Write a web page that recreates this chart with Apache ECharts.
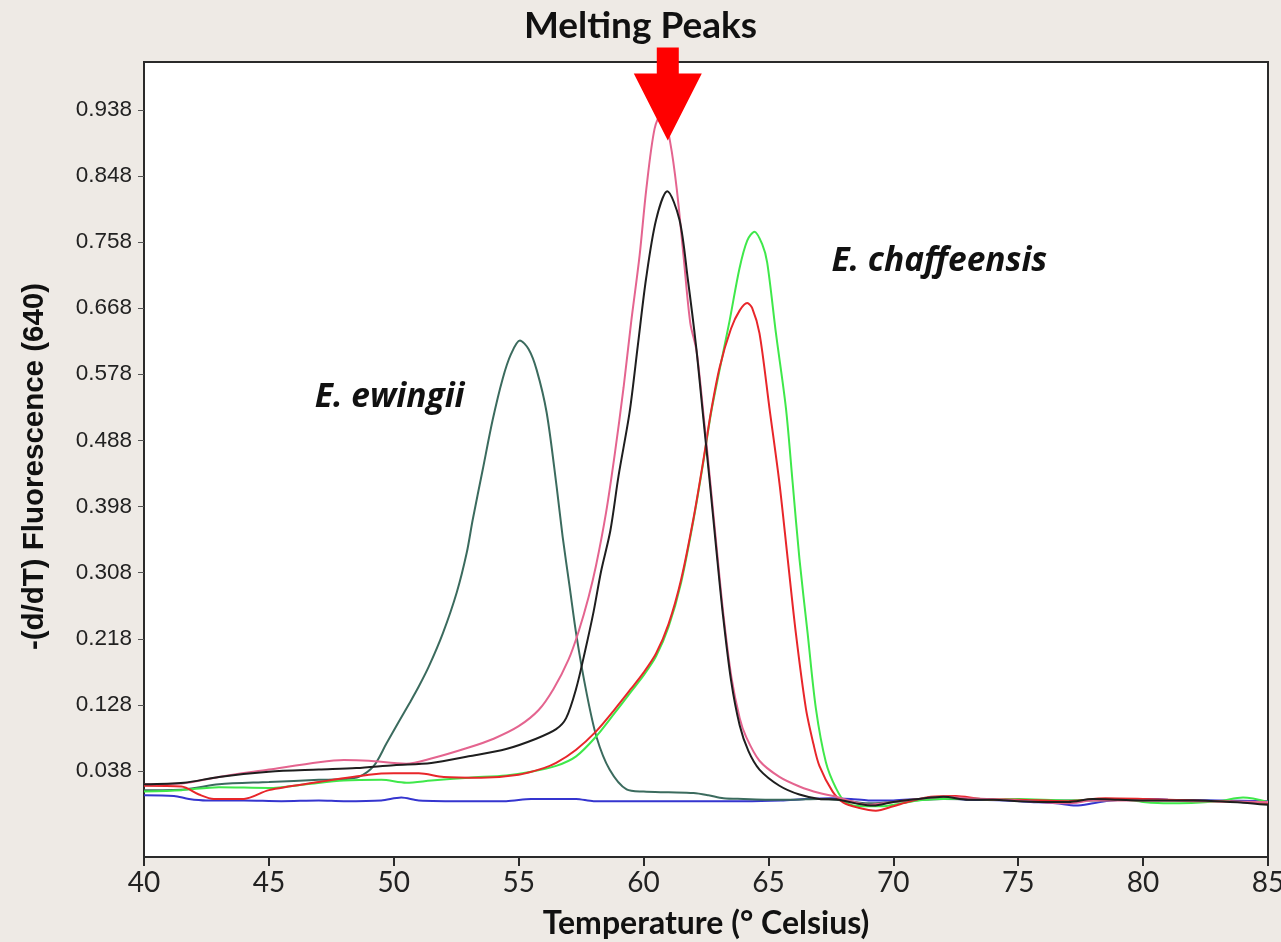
<!DOCTYPE html>
<html><head><meta charset="utf-8">
<script src="https://cdn.jsdelivr.net/npm/echarts@6/dist/echarts.min.js"></script>
<style>html,body{margin:0;padding:0;background:#eeeae5}#c{width:1281px;height:942px}</style>
</head><body><div id="c"></div>
<script>
// ---- data ----
const titleText = 'Melting Peaks';
const xAxisName = 'Temperature (° Celsius)';
const yAxisName = '-(d/dT) Fluorescence (640)';
const yTickValues = [0.038,0.128,0.218,0.308,0.398,0.488,0.578,0.668,0.758,0.848,0.938];
const xRange = [40, 85];
const xStep = 5;
const yRange = [-0.079, 1.003];

const blueCurve = [[40,0.005],[41.2,0.004],[41.8,0.0],[42.5,-0.002],[44,-0.002],[45.5,-0.003],[47,-0.002],[48,-0.003],[49.5,-0.002],[50.3,0.002],[51,-0.002],[53,-0.003],[54.5,-0.003],[55.5,0.0],[56.5,0.0],[57.3,0.0],[58,-0.003],[60,-0.003],[62,-0.003],[64,-0.003],[65.5,-0.002],[66.5,0.0],[67.5,0.001],[68.3,0.0],[69,-0.002],[70,-0.002],[71,0.0],[72,0.001],[73,-0.001],[74.5,-0.002],[75.5,-0.004],[76.5,-0.006],[77.3,-0.009],[78,-0.006],[78.7,-0.002],[80,0.0],[81,-0.001],[83,-0.002],[85,-0.003]];

const ewingiiCurve = [[40,0.012],[41.6,0.013],[43,0.020],[45,0.023],[47,0.026],[48,0.027],[48.6,0.030],[49.2,0.045],[49.7,0.075],[50.2,0.105],[50.64,0.131],[51.0,0.153],[51.4,0.180],[51.96,0.225],[52.52,0.281],[52.92,0.335],[53.16,0.380],[53.56,0.448],[53.96,0.516],[54.36,0.572],[54.7,0.606],[55.05,0.624],[55.4,0.612],[55.72,0.584],[56.12,0.526],[56.52,0.425],[56.76,0.357],[57.04,0.289],[57.32,0.221],[57.72,0.144],[58.12,0.084],[58.64,0.040],[59.32,0.013],[60,0.010],[61,0.009],[62,0.008],[62.6,0.005],[63.2,0.001],[64,0.0],[65,-0.001],[66,-0.001],[67,0.0],[68,-0.002],[69,-0.006],[70,-0.004],[72,0.0],[74,-0.001],[76,-0.002],[78,-0.002],[80,-0.001],[82,-0.002],[85,-0.005]];

const greenCurve = [[40,0.010],[41.5,0.012],[43,0.016],[45,0.015],[46.5,0.020],[48,0.025],[49.5,0.026],[50.5,0.022],[51.5,0.025],[53,0.029],[54.5,0.032],[55.5,0.037],[56.5,0.045],[57.3,0.058],[58.1,0.085],[58.8,0.115],[59.5,0.146],[60.0,0.168],[60.5,0.194],[61.0,0.234],[61.5,0.294],[62.0,0.380],[62.4,0.460],[62.7,0.525],[63.05,0.585],[63.44,0.650],[63.84,0.722],[64.15,0.760],[64.44,0.772],[64.75,0.755],[64.95,0.730],[65.3,0.634],[65.7,0.532],[65.97,0.430],[66.24,0.327],[66.57,0.225],[66.9,0.123],[67.3,0.050],[67.7,0.015],[68.1,-0.005],[68.8,-0.010],[69.5,-0.010],[70.3,-0.006],[71,-0.002],[72,0.0],[73,0.001],[74,-0.001],[75,0.0],[77,-0.002],[79,0.0],[80,-0.004],[81,-0.006],[83,-0.003],[84,0.002],[85,-0.004]];

const redCurve = [[40,0.018],[41.5,0.017],[42.2,0.006],[42.8,0.0],[44,0.0],[45,0.012],[47,0.023],[49,0.033],[50,0.035],[51,0.035],[52,0.030],[53.5,0.029],[55,0.033],[56,0.042],[56.5,0.049],[57.3,0.067],[58.1,0.092],[58.8,0.120],[59.5,0.150],[60.0,0.172],[60.5,0.198],[61.0,0.238],[61.5,0.298],[62.0,0.382],[62.4,0.462],[62.7,0.527],[63.05,0.588],[63.5,0.640],[63.85,0.665],[64.15,0.675],[64.35,0.668],[64.64,0.634],[65.04,0.532],[65.44,0.430],[65.77,0.327],[66.1,0.225],[66.5,0.123],[66.8,0.075],[67.04,0.045],[67.57,0.010],[68.0,-0.005],[68.6,-0.012],[69.3,-0.016],[70,-0.010],[70.6,-0.004],[71.5,0.003],[72.5,0.004],[73.5,0.0],[75,-0.001],[77,-0.003],[78.5,0.001],[80,0.0],[82,-0.002],[85,-0.005]];

const pinkCurve = [[40,0.020],[41.5,0.021],[43,0.030],[45,0.040],[47,0.050],[48,0.053],[49,0.052],[50.5,0.048],[51.5,0.055],[53,0.070],[54,0.082],[55,0.099],[55.8,0.121],[56.4,0.150],[57.0,0.190],[57.4,0.228],[57.8,0.275],[58.1,0.318],[58.5,0.390],[58.85,0.470],[59.2,0.560],[59.5,0.648],[59.84,0.739],[60.11,0.830],[60.44,0.912],[60.75,0.936],[61.07,0.893],[61.33,0.830],[61.6,0.739],[61.87,0.648],[62.12,0.610],[62.39,0.526],[62.66,0.435],[62.92,0.344],[63.19,0.253],[63.52,0.165],[63.85,0.110],[64.1,0.085],[64.64,0.052],[65.44,0.030],[66.24,0.017],[67.04,0.008],[67.6,0.004],[68.2,-0.002],[69,-0.008],[70,-0.004],[71,0.0],[72,0.003],[73,0.001],[75,-0.002],[77,-0.006],[78,-0.002],[80,-0.002],[82,-0.003],[85,-0.004]];

const blackCurve = [[40,0.020],[41.6,0.022],[43,0.030],[45,0.037],[47,0.040],[48.5,0.042],[50,0.046],[51.5,0.049],[53,0.058],[54.5,0.068],[55.7,0.082],[56.5,0.095],[56.9,0.110],[57.3,0.150],[57.65,0.200],[58.0,0.255],[58.3,0.310],[58.67,0.365],[59.0,0.440],[59.44,0.526],[59.77,0.617],[60.1,0.708],[60.5,0.788],[60.95,0.827],[61.44,0.788],[61.77,0.708],[62.1,0.617],[62.37,0.526],[62.64,0.435],[62.9,0.344],[63.17,0.253],[63.5,0.162],[63.85,0.100],[64.2,0.065],[64.64,0.040],[65.44,0.018],[66.24,0.006],[67.04,0.0],[67.8,-0.001],[68.5,-0.006],[69.2,-0.009],[70,-0.004],[71,0.0],[72,0.003],[73,-0.001],[74,-0.001],[75,-0.003],[76,-0.004],[77,-0.004],[78,0.0],[79,-0.001],[80,-0.002],[82,-0.002],[84,-0.005],[85,-0.008]];

const annotationTexts = ['E. ewingii', 'E. chaffeensis'];
const annotationAnchors = [[46.84, 0.546], [67.52, 0.731]];
const arrowTip = [60.97, 0.896];

// ---- chart ----
const chart = echarts.init(document.getElementById('c'));
const mk = (name, data, color, z) => ({
  name, type: 'line', data, smooth: 0.3, showSymbol: false, z,
  lineStyle: { color, width: 2 }, itemStyle: { color }, silent: true
});
chart.setOption({
  animation: false,
  backgroundColor: '#eeeae5',
  title: {
    text: titleText, left: 'center', top: 3,
    textStyle: { fontFamily: 'Lato', fontWeight: 'bold', fontSize: 37, color: '#111' }
  },
  grid: { left: 144, right: 13, top: 62, bottom: 85, outerBoundsMode: 'none', containLabel: false,
    show: true, backgroundColor: '#ffffff', borderColor: '#2a2a2a', borderWidth: 2 },
  xAxis: {
    type: 'value', min: xRange[0], max: xRange[1], interval: xStep,
    name: xAxisName, nameLocation: 'middle', nameGap: 51,
    nameTextStyle: { fontFamily: 'Lato', fontWeight: 'bold', fontSize: 32, color: '#111' },
    axisLine: { onZero: false, lineStyle: { color: '#2a2a2a', width: 2 } },
    axisTick: { show: true, length: 9, lineStyle: { color: '#2a2a2a', width: 2 } },
    axisLabel: { fontFamily: 'Lato', fontSize: 28, color: '#222', margin: 12 },
    splitLine: { show: false }
  },
  yAxis: {
    type: 'value', min: yRange[0], max: yRange[1],
    name: yAxisName, nameLocation: 'middle', nameGap: 94, nameRotate: 90,
    nameTextStyle: { fontFamily: 'Liberation Sans', fontWeight: 'bold', fontSize: 29.5, color: '#111', padding: [0, 14, 0, 0] },
    axisLine: { onZero: false, lineStyle: { color: '#2a2a2a', width: 2 } },
    axisTick: { show: true, length: 6, customValues: yTickValues, lineStyle: { color: '#555', width: 1 } },
    axisLabel: { customValues: yTickValues, formatter: v => v.toFixed(3), fontFamily: 'Liberation Sans', fontSize: 22.5, color: '#222', margin: 12 },
    splitLine: { show: false }
  },
  series: [
    mk('blue', blueCurve, '#3535cf', 1),
    mk('ewingii', ewingiiCurve, '#3b6b5e', 2),
    mk('green', greenCurve, '#3fe84a', 3),
    mk('red', redCurve, '#e8262a', 4),
    mk('pink', pinkCurve, '#e4648f', 5),
    mk('black', blackCurve, '#1e1e1e', 6)
  ]
});

const px = p => chart.convertToPixel({ xAxisIndex: 0, yAxisIndex: 0 }, p);
const graphics = annotationTexts.map((t, i) => {
  const p = px(annotationAnchors[i]);
  return { type: 'text', z: 100, style: { text: t, x: p[0], y: p[1], align: 'left', verticalAlign: 'middle',
    fontFamily: 'Open Sans', fontStyle: 'italic', fontWeight: 'bold', fontSize: 33.5, fill: '#111' } };
});
const tip = px(arrowTip);
const tx = tip[0], ty = tip[1];
graphics.push({ type: 'polygon', z: 100, shape: { points: [[tx, ty], [tx - 34, ty - 67], [tx - 11, ty - 67], [tx - 11, ty - 93], [tx + 11, ty - 93], [tx + 11, ty - 67], [tx + 34, ty - 67]] },
  style: { fill: '#ff0000' } });
chart.setOption({ graphic: graphics });
</script>
</body></html>
